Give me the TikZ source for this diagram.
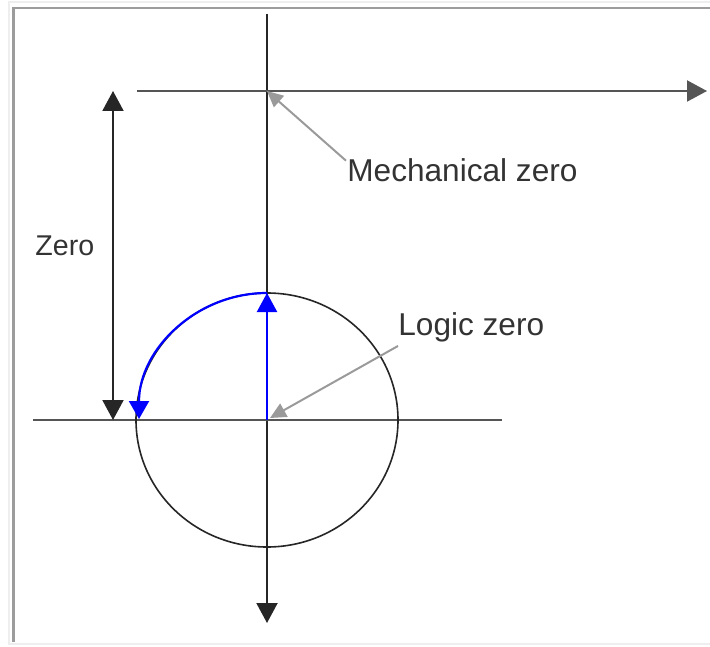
\documentclass[tikz,border=0pt]{standalone}
\usepackage{fontspec}
\setmainfont{Liberation Sans}
\usetikzlibrary{arrows.meta,calc}
\definecolor{axis}{HTML}{262626}
\definecolor{rule}{HTML}{555555}
\definecolor{leader}{HTML}{9A9A9A}
\definecolor{spin}{HTML}{0000FF}
\definecolor{frameout}{HTML}{EEEEEE}
\definecolor{framein}{HTML}{9C9C9C}
\definecolor{ink}{HTML}{333333}

\begin{document}
\begin{tikzpicture}[x=0.5pt, y=-0.5pt,
    axisline/.style={draw=axis, line width=1pt},
    ruleline/.style={draw=rule, line width=1pt},
    bigtip/.style={-{Triangle[length=10pt, width=10.5pt]}},
    spinline/.style={draw=spin, line width=1.1pt},
    pointer/.style={draw=leader, line width=1pt, -{Triangle[length=8pt, width=7.5pt]}},
    lbl/.style={inner sep=0pt, anchor=base west, text=ink,
                font=\fontsize{15.8}{18}\selectfont}]
  \useasboundingbox (0,0) rectangle (710,646);

  % screenshot frame
  \draw[frameout, line width=1pt] (710,2) -- (9,2) -- (9,644) -- (710,644);
  \draw[framein, line width=1.2pt] (710,8) -- (13.5,8) -- (13.5,642);

  % points
  \coordinate (O)     at (267,420);
  \coordinate (top)   at (267,14);
  \coordinate (down)  at (267,623);
  \coordinate (mzero) at (267,91);
  \coordinate (lzero) at (270,418);
  \coordinate (xbeg)  at (137,91);
  \coordinate (xend)  at (707,91);
  \coordinate (lbeg)  at (33,420);
  \coordinate (lend)  at (502,420);
  \coordinate (zhi)   at (113,91);
  \coordinate (zlo)   at (113,420);
  \coordinate (north) at (267,293);

  % axes
  \draw[axisline, bigtip] (top) -- (down);
  \draw[ruleline, bigtip] (xbeg) -- (xend);
  \draw[ruleline] (lbeg) -- (lend);

  % circle
  \draw[draw=axis, line width=0.8pt] (O) ellipse [x radius=131, y radius=127];

  % logic rotation
  \draw[spinline, -{Triangle[length=9.5pt, width=10pt]}] (O) -- (north);
  \draw[spinline, -{Triangle[length=9pt, width=10pt]}]
    (north) arc [start angle=-90, end angle=-180, x radius=128, y radius=126];

  % zero offset
  \draw[axisline, {Triangle[length=10pt, width=10.5pt]}-{Triangle[length=10pt, width=10.5pt]}] (zhi) -- (zlo);
  \node[lbl, font=\fontsize{14.3}{17}\selectfont] (zero) at (35,256) {Zero};

  % labels
  \node[lbl] (mech)  at (347,182) {Mechanical zero};
  \node[lbl] (logic) at (398,335) {Logic zero};
  \coordinate (mfoot) at ($(mech.north west)+(-1,2)$);
  \coordinate (lfoot) at ($(logic.south west)+(0,4)$);
  \draw[pointer] (mfoot) -- (mzero);
  \draw[pointer] (lfoot) -- (lzero);
\end{tikzpicture}
\end{document}
